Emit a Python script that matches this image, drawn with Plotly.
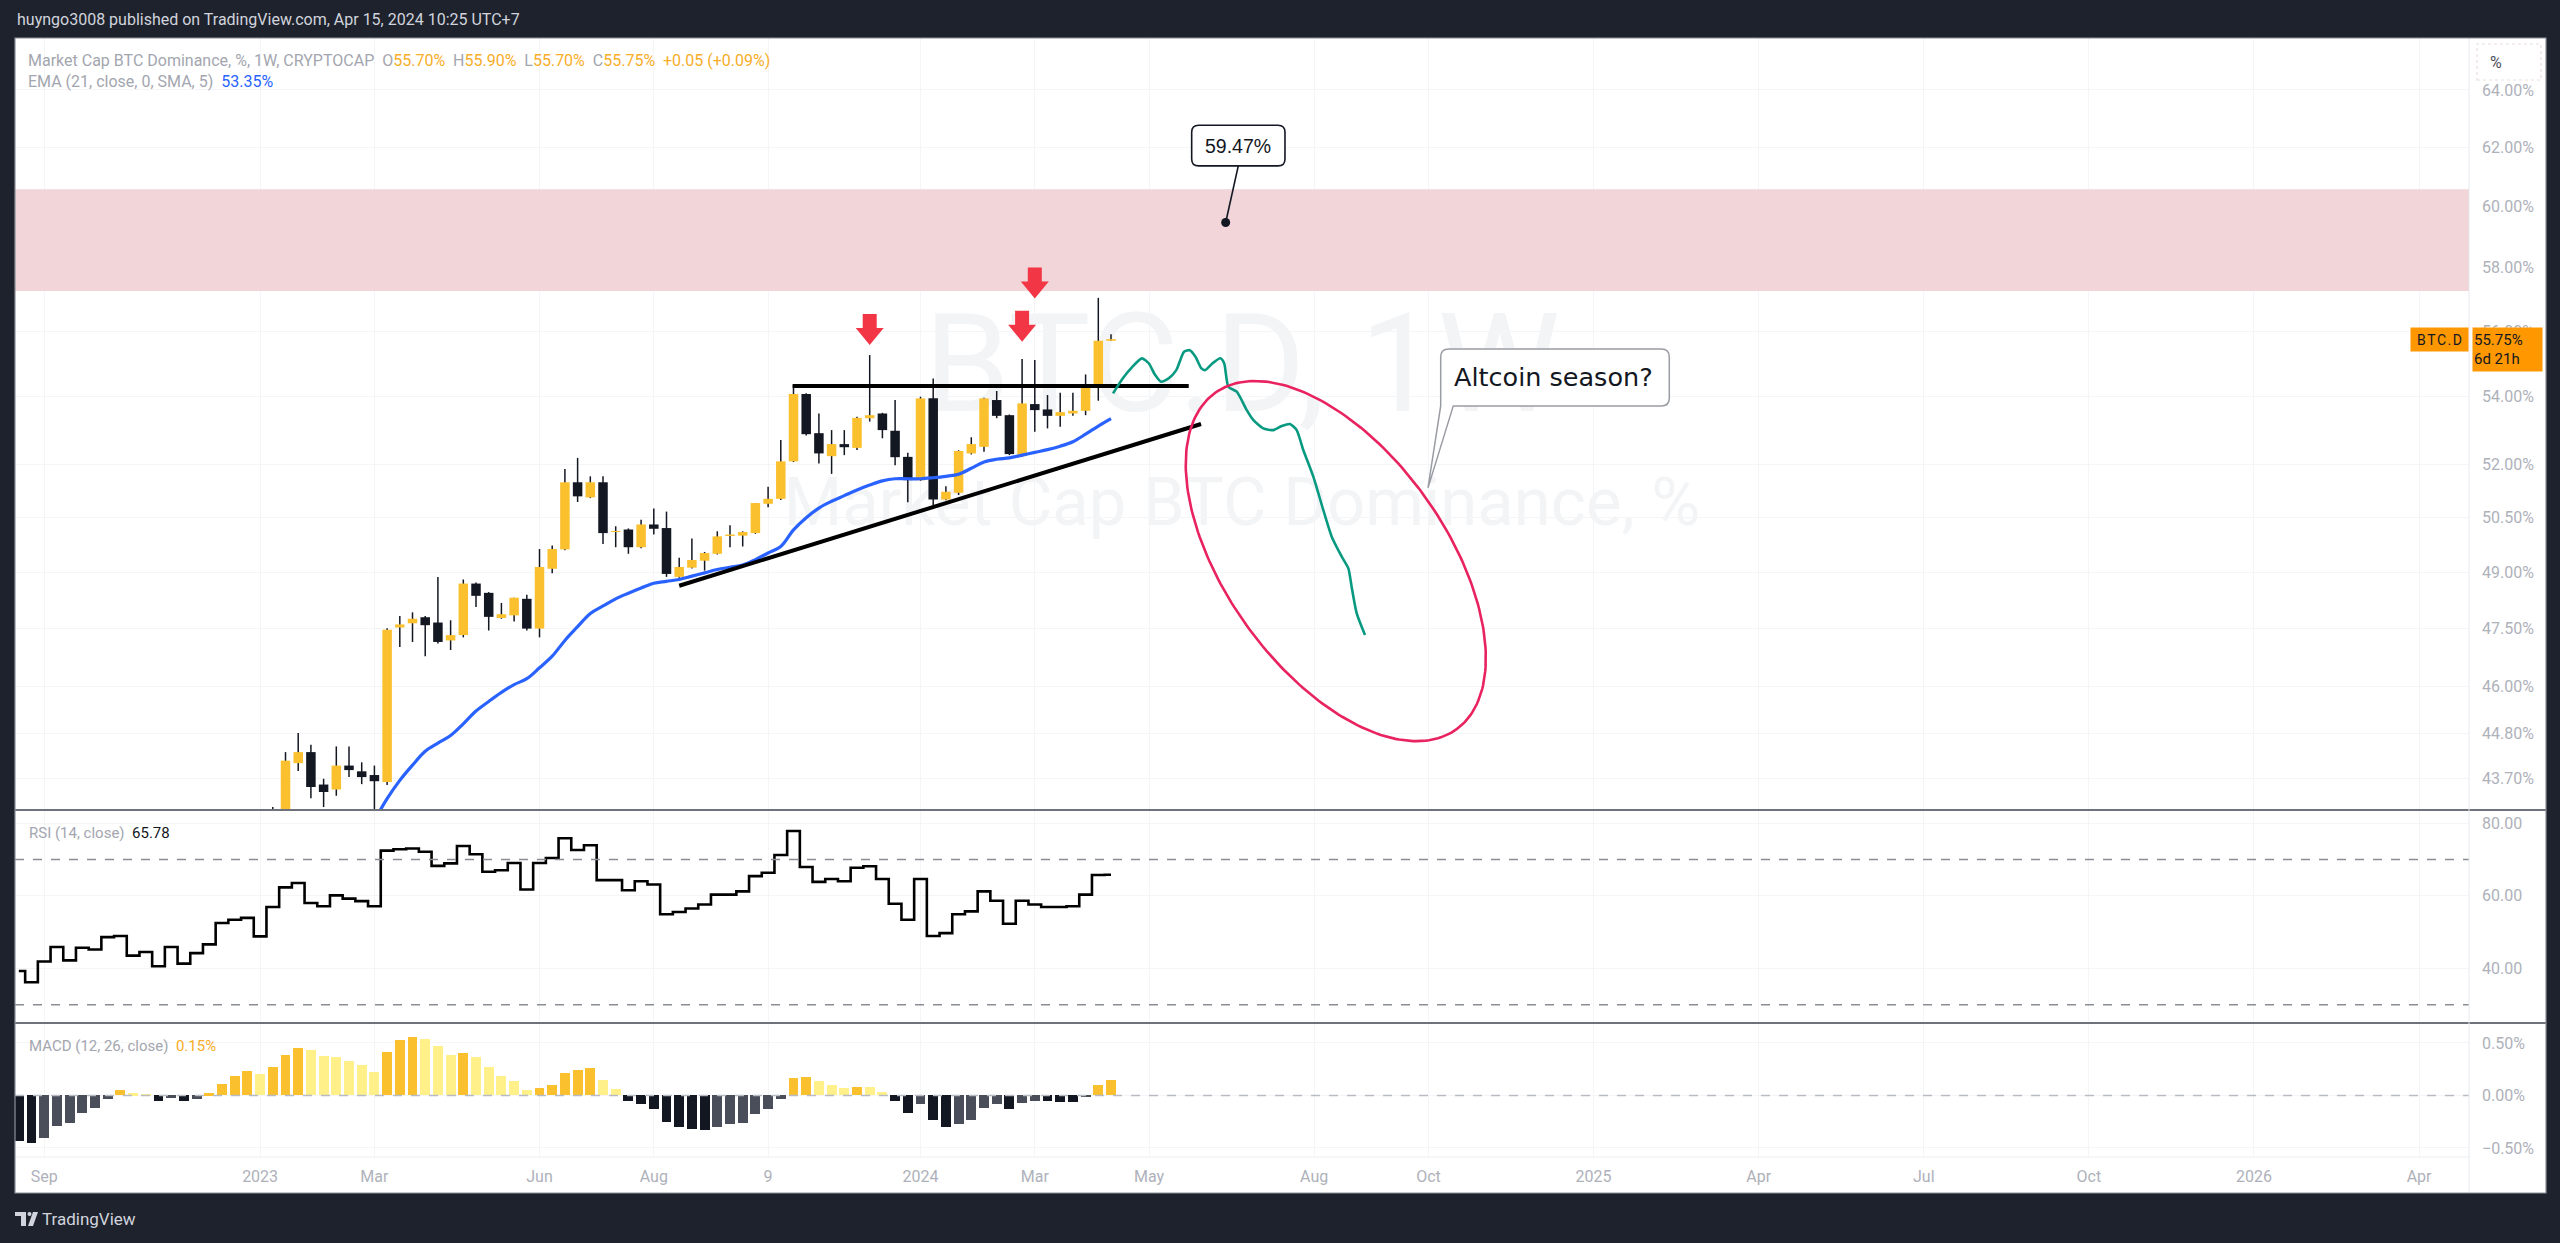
import math
import pandas as pd
import plotly.graph_objects as go

# ---------------------------------------------------------------- data
LAST_BAR = pd.Timestamp("2024-04-15")

# weekly candles, oldest -> newest (last = week of 2024-04-15)
candle_open = [42.50, 42.60, 44.08, 44.35, 43.56, 43.44, 44.02, 43.88, 43.79, 43.62,
               47.52, 47.63, 47.79, 47.65, 47.18, 47.32, 48.69, 48.44, 47.77, 47.84,
               48.28, 47.49, 49.09, 49.62, 51.50, 51.07, 51.50, 50.10, 50.17, 49.68,
               50.31, 50.21, 48.87, 49.12, 49.31, 49.50, 49.99, 50.00, 50.07, 50.89,
               51.03, 52.10, 54.08, 52.92, 52.25, 52.60, 52.49, 53.36, 53.50, 52.99,
               52.23, 51.56, 53.95, 51.01, 51.20, 52.33, 52.52, 53.90, 53.45, 52.25,
               53.78, 53.62, 53.43, 53.50, 53.58, 54.28, 55.70]
candle_high = [43.02, 44.35, 44.82, 44.53, 43.70, 44.49, 44.49, 44.10, 44.02, 47.50,
               47.82, 47.92, 47.82, 48.87, 47.71, 48.80, 48.72, 48.46, 48.17, 48.31,
               48.39, 49.63, 49.73, 51.88, 52.20, 51.67, 51.67, 50.26, 50.20, 50.44,
               50.76, 50.67, 49.39, 49.92, 49.55, 50.12, 50.29, 50.12, 50.91, 51.37,
               52.72, 54.35, 54.10, 53.50, 53.01, 53.01, 53.40, 55.26, 53.52, 53.90,
               52.35, 54.00, 54.55, 51.39, 52.42, 52.80, 53.97, 54.17, 53.47, 55.14,
               55.11, 54.05, 54.12, 54.12, 54.67, 57.04, 55.90]
candle_low = [42.10, 42.40, 43.89, 43.23, 43.02, 43.29, 43.74, 43.57, 42.90, 43.55,
              47.01, 47.14, 46.77, 47.10, 46.93, 47.26, 48.06, 47.44, 47.75, 47.68,
              47.44, 47.26, 48.97, 49.60, 50.94, 51.05, 49.77, 49.68, 49.50, 49.65,
              50.03, 48.87, 48.85, 49.10, 49.04, 49.48, 49.68, 49.70, 50.05, 50.79,
              51.00, 52.08, 52.85, 52.04, 51.74, 52.28, 52.43, 53.26, 52.77, 51.99,
              50.93, 51.54, 50.85, 50.99, 51.14, 52.30, 52.38, 53.36, 52.28, 52.23,
              52.96, 53.06, 53.11, 53.43, 53.45, 53.88, 55.70]
candle_close = [42.30, 44.14, 44.35, 43.50, 43.38, 44.02, 43.91, 43.74, 43.64, 47.46,
                47.60, 47.75, 47.58, 47.14, 47.32, 48.69, 48.36, 47.80, 47.87, 48.31,
                47.49, 49.14, 49.63, 51.50, 51.10, 51.50, 50.07, 50.12, 49.68, 50.31,
                50.19, 48.95, 49.14, 49.33, 49.52, 49.98, 50.03, 50.10, 50.91, 51.03,
                52.10, 54.08, 52.89, 52.33, 52.60, 52.51, 53.37, 53.45, 53.01, 52.22,
                51.56, 53.95, 51.01, 51.23, 52.40, 52.60, 53.95, 53.43, 52.31, 53.80,
                53.60, 53.43, 53.54, 53.58, 54.30, 55.70, 55.75]
candle_dates = pd.date_range(end=LAST_BAR, periods=len(candle_open), freq="7D")

ema_values = [42.70, 43.22, 43.66, 44.03, 44.37, 44.57, 44.76, 45.05, 45.37, 45.61,
              45.84, 46.04, 46.19, 46.47, 46.77, 47.18, 47.54, 47.89, 48.09, 48.28,
              48.43, 48.57, 48.70, 48.75, 48.80, 48.89, 48.98, 49.07, 49.13, 49.19,
              49.34, 49.52, 49.70, 50.16, 50.50, 50.77, 50.96, 51.12, 51.28, 51.42,
              51.54, 51.60, 51.60, 51.60, 51.63, 51.67, 51.73, 51.90, 52.08, 52.16,
              52.20, 52.28, 52.36, 52.44, 52.54, 52.67, 52.89, 53.13, 53.35]
ema_dates = pd.date_range(end=LAST_BAR, periods=len(ema_values), freq="7D")

rsi_values = [39.3, 36.2, 41.9, 45.9, 42.2, 45.7, 45.2, 48.6, 48.9, 43.5,
              44.5, 40.6, 45.9, 41.3, 44.2, 46.6, 52.5, 53.4, 53.9, 48.8,
              56.9, 62.3, 63.5, 58.0, 57.1, 60.1, 59.2, 58.5, 57.1, 72.4,
              72.8, 73.0, 72.1, 68.2, 68.9, 73.7, 71.4, 66.6, 67.0, 69.0,
              61.7, 69.0, 70.4, 75.8, 72.6, 73.9, 64.3, 64.3, 61.5, 64.0,
              63.1, 54.9, 55.5, 56.5, 57.6, 60.3, 60.3, 61.2, 65.4, 66.3,
              71.2, 77.8, 67.9, 63.8, 64.6, 64.0, 67.7, 68.1, 64.6, 57.8,
              53.4, 64.6, 48.9, 49.7, 54.9, 55.7, 61.2, 58.6, 52.3, 58.6,
              57.6, 56.9, 56.9, 57.1, 60.3, 65.7, 65.78]
rsi_dates = pd.date_range(end=LAST_BAR, periods=len(rsi_values), freq="7D")

macd_hist = [-0.435, -0.457, -0.403, -0.286, -0.260, -0.165, -0.117, -0.032, 0.051, 0.019,
             0.016, -0.048, -0.022, -0.048, -0.032, 0.019, 0.111, 0.190, 0.231, 0.200,
             0.270, 0.390, 0.454, 0.432, 0.375, 0.368, 0.327, 0.289, 0.222, 0.416,
             0.524, 0.559, 0.540, 0.470, 0.390, 0.406, 0.365, 0.270, 0.190, 0.137,
             0.048, 0.070, 0.095, 0.216, 0.241, 0.257, 0.152, 0.063, -0.048, -0.086,
             -0.127, -0.254, -0.302, -0.322, -0.326, -0.302, -0.276, -0.260, -0.181, -0.127,
             -0.032, 0.162, 0.178, 0.137, 0.098, 0.073, 0.083, 0.082, 0.035, -0.054,
             -0.165, -0.086, -0.229, -0.298, -0.270, -0.229, -0.124, -0.086, -0.133, -0.070,
             -0.054, -0.056, -0.058, -0.060, -0.016, 0.095, 0.152]
macd_dates = pd.date_range(end=LAST_BAR, periods=len(macd_hist), freq="7D")

price_ticks = [43.7, 44.8, 46.0, 47.5, 49.0, 50.5, 52.0, 54.0, 56.0, 58.0, 60.0, 62.0, 64.0]
price_tick_text = [f"{v:.2f}%" for v in price_ticks]
rsi_ticks = [40, 60, 80]
rsi_tick_text = ["40.00", "60.00", "80.00"]
macd_ticks = [-0.5, 0.0, 0.5]
macd_tick_text = ["\u22120.50%", "0.00%", "0.50%"]
time_tick_dates = ["2022-09-05", "2023-01-02", "2023-03-06", "2023-06-05", "2023-08-07",
                   "2023-10-09", "2024-01-01", "2024-03-04", "2024-05-06", "2024-08-05",
                   "2024-10-07", "2025-01-06", "2025-04-07", "2025-07-07", "2025-10-06",
                   "2026-01-05", "2026-04-06"]
time_tick_text = ["Sep", "2023", "Mar", "Jun", "Aug", "9", "2024", "Mar", "May", "Aug",
                  "Oct", "2025", "Apr", "Jul", "Oct", "2026", "Apr"]

# drawings (time as weeks from the last bar, price in %)
resistance_weeks = [-25.07, 6.12]
resistance_price = [54.32, 54.32]
support_weeks = [-34.0, 7.09]
support_price = [48.63, 53.19]
path_weeks = [0.16, 0.92, 1.68, 2.43, 2.97, 3.48, 3.94, 4.54, 5.14, 5.75, 6.20, 6.65,
              7.10, 7.40, 8.00, 8.61, 8.91, 9.24, 9.90, 10.69, 11.20, 11.99, 12.78,
              13.44, 14.09, 14.62, 15.14, 15.93, 16.72, 17.38, 18.17, 18.69, 18.95,
              19.35, 20.00]
path_price = [54.10, 54.55, 54.90, 55.16, 55.01, 54.65, 54.45, 54.55, 54.80, 55.36, 55.41,
              55.21, 54.86, 54.80, 55.01, 55.16, 55.01, 54.30, 54.15, 53.60, 53.31, 53.06,
              53.01, 53.13, 53.19, 53.01, 52.43, 51.66, 50.71, 49.97, 49.42, 49.10, 48.60,
              47.89, 47.32]
arrow_weeks = [-19, -7, -6]
arrow_price = [55.57, 55.67, 57.02]
target_weeks = 9.03
target_price = 59.47
zone_price = [57.26, 60.58]
callout_weeks = 24.96
callout_price = 51.34
ellipse_center_weeks = 17.7
ellipse_center_price = 49.3
ellipse_a_weeks = 16.3
ellipse_b_weeks = 8.66
ellipse_tilt_deg = -54.4

# ---------------------------------------------------------------- layout geometry
W, H = 2560, 1243
L, R, T, B = 15, 2469, 38, 1157          # plot-area box
MAIN_BOTTOM, RSI_BOTTOM = 810, 1023
PANEL_R, PANEL_B = 2546, 1193
VIEW_W = (-86.3, 106.93)                 # visible weeks around last bar
MAIN_RANGE = (42.95, 65.87)
RSI_RANGE = (24.97, 83.59)
MACD_RANGE = (-0.586, 0.69)


def wdate(w):
    return LAST_BAR + pd.Timedelta(days=7 * w)


def PX(x):
    return (x - L) / (R - L)


def PY(y):
    return (B - y) / (B - T)


DARK = "#1e222d"
INK = "#131722"
GRAY_TXT = "#a3a6af"
AXIS_TXT = "#aeb1ba"
ORANGE = "#fbc02d"
LEG_ORANGE = "#f8ad28"
FONT = "Roboto"

fig = go.Figure()

# resistance zone (as a filled trace so it sits above the grid)
zx0, zx1 = wdate(VIEW_W[0] - 2), wdate(VIEW_W[1] + 2)
fig.add_trace(go.Scatter(x=[zx0, zx1, zx1, zx0, zx0],
                         y=[zone_price[0], zone_price[0], zone_price[1], zone_price[1], zone_price[0]],
                         mode="lines", fill="toself", fillcolor="#f1d5d9", line=dict(width=0),
                         hoverinfo="skip", xaxis="x", yaxis="y"))

# candles ---------------------------------------------------------------
wx, wy = [], []
for d, h, l in zip(candle_dates, candle_high, candle_low):
    wx += [d, d, None]
    wy += [h, l, None]
fig.add_trace(go.Scatter(x=wx, y=wy, mode="lines", line=dict(color=INK, width=1.5),
                         hoverinfo="skip", xaxis="x", yaxis="y"))

for up, color in [(True, ORANGE), (False, INK)]:
    bx, by = [], []
    for d, o, c in zip(candle_dates, candle_open, candle_close):
        if (c >= o) == up:
            lo, hi = min(o, c), max(o, c)
            if hi / lo < 1.0006:
                hi = lo * 1.0006
            bx += [d, d, None]
            by += [lo, hi, None]
    fig.add_trace(go.Scatter(x=bx, y=by, mode="lines", line=dict(color=color, width=9.5),
                             hoverinfo="skip", xaxis="x", yaxis="y"))

fig.add_trace(go.Scatter(x=ema_dates, y=ema_values, mode="lines",
                         line=dict(color="#2962ff", width=3.2, shape="spline"),
                         hoverinfo="skip", xaxis="x", yaxis="y"))

# trend lines
for ws, ps in [(resistance_weeks, resistance_price), (support_weeks, support_price)]:
    fig.add_trace(go.Scatter(x=[wdate(w) for w in ws], y=ps, mode="lines",
                             line=dict(color="#000000", width=4),
                             hoverinfo="skip", xaxis="x", yaxis="y"))

# projected path
fig.add_trace(go.Scatter(x=[wdate(w) for w in path_weeks], y=path_price, mode="lines",
                         line=dict(color="#089981", width=2.6, shape="spline", smoothing=0.6),
                         hoverinfo="skip", xaxis="x", yaxis="y"))

# ellipse (drawn isotropically on screen)
px_per_week = (R - L) / (VIEW_W[1] - VIEW_W[0])
px_per_ln = (MAIN_BOTTOM - T) / math.log(MAIN_RANGE[1] / MAIN_RANGE[0])
S = px_per_ln / px_per_week
phi = math.radians(ellipse_tilt_deg)
ex, ey = [], []
for i in range(241):
    t = 2 * math.pi * i / 240
    du = ellipse_a_weeks * math.cos(t) * math.cos(phi) - ellipse_b_weeks * math.sin(t) * math.sin(phi)
    dv = ellipse_a_weeks * math.cos(t) * math.sin(phi) + ellipse_b_weeks * math.sin(t) * math.cos(phi)
    ex.append(wdate(ellipse_center_weeks + du))
    ey.append(ellipse_center_price * math.exp(dv / S))
fig.add_trace(go.Scatter(x=ex, y=ey, mode="lines", line=dict(color="#e8235f", width=2.6),
                         hoverinfo="skip", xaxis="x", yaxis="y"))

# target dot
fig.add_trace(go.Scatter(x=[wdate(target_weeks)], y=[target_price], mode="markers",
                         marker=dict(color=INK, size=9), hoverinfo="skip", xaxis="x", yaxis="y"))

# RSI ---------------------------------------------------------------------
fig.add_trace(go.Scatter(x=rsi_dates, y=rsi_values, mode="lines",
                         line=dict(color="#000000", width=2.6, shape="hvh"),
                         hoverinfo="skip", xaxis="x", yaxis="y2"))

# MACD histogram ----------------------------------------------------------
mcolors = []
prev = None
for v in macd_hist:
    rising = prev is not None and v > prev
    if v >= 0:
        mcolors.append(ORANGE if (prev is None or v >= prev) else "#fff08a")
    else:
        mcolors.append("#4a4e5a" if rising else INK)
    prev = v
fig.add_trace(go.Bar(x=macd_dates, y=macd_hist, marker=dict(color=mcolors, line=dict(width=0)),
                     width=0.78 * 7 * 86400000, hoverinfo="skip", xaxis="x", yaxis="y3"))

# ---------------------------------------------------------------- shapes
shapes = []
# white chart panel
shapes.append(dict(type="rect", xref="paper", yref="paper", x0=PX(L), x1=PX(PANEL_R),
                   y0=PY(PANEL_B), y1=PY(T), fillcolor="#ffffff", line=dict(width=0), layer="below"))
# watermark
WM = "#f3f4f6"
shapes.append(dict(type="rect", xref="paper", yref="paper", x0=PX(880), x1=PX(1604),
                   y0=PY(416), y1=PY(292), fillcolor="rgba(0,0,0,0)", line=dict(width=0), layer="below",
                   label=dict(text="BTC.D, 1W", font=dict(size=138, color=WM, family=FONT),
                              textposition="middle center")))
shapes.append(dict(type="rect", xref="paper", yref="paper", x0=PX(740), x1=PX(1744),
                   y0=PY(535), y1=PY(459), fillcolor="rgba(0,0,0,0)", line=dict(width=0), layer="below",
                   label=dict(text="Market Cap BTC Dominance, %", font=dict(size=67, color=WM, family=FONT),
                              textposition="middle center")))
# RSI bands, MACD zero
for lvl in (70, 30):
    shapes.append(dict(type="line", xref="paper", yref="y2", x0=0, x1=1, y0=lvl, y1=lvl,
                       line=dict(color="#8a8d96", width=1.5, dash="dash")))
shapes.append(dict(type="line", xref="paper", yref="y3", x0=0, x1=1, y0=0, y1=0,
                   line=dict(color="#b8bbc3", width=1.5, dash="dash")))
# pane separators and borders
for yy in (MAIN_BOTTOM, RSI_BOTTOM):
    shapes.append(dict(type="line", xref="paper", yref="paper", x0=PX(L), x1=PX(PANEL_R),
                       y0=PY(yy), y1=PY(yy), line=dict(color="#6f727c", width=2)))
shapes.append(dict(type="line", xref="paper", yref="paper", x0=PX(R), x1=PX(R),
                   y0=PY(PANEL_B), y1=PY(T), line=dict(color="#e6e8ee", width=1)))
shapes.append(dict(type="line", xref="paper", yref="paper", x0=PX(L), x1=PX(R),
                   y0=0, y1=0, line=dict(color="#eceef2", width=1)))
shapes.append(dict(type="rect", xref="paper", yref="paper", x0=PX(L), x1=PX(PANEL_R),
                   y0=PY(PANEL_B), y1=PY(T), line=dict(color="#8c8f98", width=1.2)))
# red arrows
ARROW_PATH = "M0,0 L-14,17 L-7,17 L-7,31 L7,31 L7,17 L14,17 Z"
for w, p in zip(arrow_weeks, arrow_price):
    shapes.append(dict(type="path", xref="x", yref="y", xsizemode="pixel", ysizemode="pixel",
                       xanchor=wdate(w), yanchor=p, path=ARROW_PATH,
                       fillcolor="#f23645", line=dict(width=0)))
# 59.47% label box + leader
shapes.append(dict(type="path", xref="x", yref="y", xsizemode="pixel", ysizemode="pixel",
                   xanchor=wdate(target_weeks), yanchor=target_price,
                   path="M12.6,56.6 L0,0", line=dict(color=INK, width=1.6)))
shapes.append(dict(type="path", xref="x", yref="y", xsizemode="pixel", ysizemode="pixel",
                   xanchor=wdate(target_weeks), yanchor=target_price,
                   path=("M-27,56.6 L52.3,56.6 Q59.3,56.6 59.3,63.6 L59.3,90.3 Q59.3,97.3 52.3,97.3 "
                         "L-27,97.3 Q-34,97.3 -34,90.3 L-34,63.6 Q-34,56.6 -27,56.6 Z"),
                   fillcolor="#ffffff", line=dict(color=INK, width=1.6)))
# callout
shapes.append(dict(type="path", xref="x", yref="y", xsizemode="pixel", ysizemode="pixel",
                   xanchor=wdate(callout_weeks), yanchor=callout_price,
                   path=("M0,0 L12.7,82 L12.7,131 Q12.7,139 20.7,139 L233.3,139 Q241.3,139 241.3,131 "
                         "L241.3,90 Q241.3,82 233.3,82 L25.3,82 Z"),
                   fillcolor="#ffffff", line=dict(color="#9a9ca4", width=1.5)))
# "%" button
shapes.append(dict(type="rect", xref="paper", yref="paper", x0=PX(2477), x1=PX(2541),
                   y0=PY(80), y1=PY(44), fillcolor="#ffffff",
                   line=dict(color="#eadde2", width=1.2, dash="dot")))
# TradingView logo mark
shapes.append(dict(type="path", xref="paper", yref="paper",
                   path=(f"M{PX(15)},{PY(1212)} L{PX(26)},{PY(1212)} L{PX(26)},{PY(1226)} "
                         f"L{PX(21)},{PY(1226)} L{PX(21)},{PY(1216)} L{PX(15)},{PY(1216)} Z"),
                   fillcolor="#d1d4dc", line=dict(width=0)))
shapes.append(dict(type="circle", xref="paper", yref="paper", x0=PX(27.5), x1=PX(31.5),
                   y0=PY(1216), y1=PY(1212), fillcolor="#d1d4dc", line=dict(width=0)))
shapes.append(dict(type="path", xref="paper", yref="paper",
                   path=(f"M{PX(33)},{PY(1212)} L{PX(38)},{PY(1212)} L{PX(33)},{PY(1226)} "
                         f"L{PX(28)},{PY(1226)} Z"),
                   fillcolor="#d1d4dc", line=dict(width=0)))

# ---------------------------------------------------------------- annotations
chg = candle_close[-1] - candle_close[-2]
chg_pct = chg / candle_close[-2] * 100
sp = "\u00a0\u00a0"


def g(s):
    return f'<span style="color:{GRAY_TXT}">{s}</span>'


def o(s):
    return f'<span style="color:{LEG_ORANGE}">{s}</span>'


line1 = (g("Market Cap BTC Dominance, %, 1W, CRYPTOCAP") + sp +
         g("O") + o(f"{candle_open[-1]:.2f}%") + sp + g("H") + o(f"{candle_high[-1]:.2f}%") + sp +
         g("L") + o(f"{candle_low[-1]:.2f}%") + sp + g("C") + o(f"{candle_close[-1]:.2f}%") + sp +
         o(f"{chg:+.2f} ({chg_pct:+.2f}%)"))
line2 = g("EMA (21, close, 0, SMA, 5)") + sp + f'<span style="color:#2962ff">{ema_values[-1]:.2f}%</span>'
rsi_leg = g("RSI (14, close)") + sp + f'<span style="color:{INK}">{rsi_values[-1]:.2f}</span>'
macd_leg = g("MACD (12, 26, close)") + sp + o(f"{macd_hist[-1]:.2f}%")

ann = []


def pa(text, x, y, size, color, xanchor="left", **kw):
    ann.append(dict(text=text, x=PX(x), y=PY(y), xref="paper", yref="paper", showarrow=False,
                    xanchor=xanchor, yanchor="middle", font=dict(size=size, color=color, family=FONT), **kw))


pa("huyngo3008 published on TradingView.com, Apr 15, 2024 10:25 UTC+7", 15, 20, 16, "#d1d4dc")
pa(line1, 26, 60, 16, GRAY_TXT)
pa(line2, 26, 82, 16, GRAY_TXT)
pa(rsi_leg, 27, 833, 15, GRAY_TXT)
pa(macd_leg, 27, 1046, 15, GRAY_TXT)
pa("TradingView", 40, 1219, 17, "#d1d4dc")
pa("%", 2496, 62, 16, "#50535e", xanchor="center")
ann.append(dict(text="B T C . D".replace(" ", "\u200a"), x=PX(R), y=PY(339.5), xref="paper", yref="paper",
                showarrow=False, xanchor="right", yanchor="middle", bgcolor="#ff9800",
                width=55, height=21, borderpad=1, font=dict(size=14, color=INK, family=FONT)))
ann.append(dict(text=f"{candle_close[-1]:.2f}%<br>6d 21h", x=PX(2472), y=PY(349.5), xref="paper",
                yref="paper", showarrow=False, xanchor="left", yanchor="middle", bgcolor="#ff9800",
                width=67, height=41, borderpad=1, align="left",
                font=dict(size=15, color=INK, family=FONT)))
ann.append(dict(text=f"{target_price:.2f}%", x=wdate(target_weeks), y=math.log10(target_price),
                xref="x", yref="y", showarrow=False, xshift=12.6, yshift=77,
                font=dict(size=19.5, color=INK, family="Liberation Sans")))
ann.append(dict(text="Altcoin season?", x=wdate(callout_weeks), y=math.log10(callout_price),
                xref="x", yref="y", showarrow=False, xshift=126, yshift=111,
                font=dict(size=25.5, color=INK, family="DejaVu Sans")))

# ---------------------------------------------------------------- axes
dom_main = [PY(MAIN_BOTTOM), 1]
dom_rsi = [PY(RSI_BOTTOM), PY(MAIN_BOTTOM)]
dom_macd = [0, PY(RSI_BOTTOM)]
GRID = "#f4f5f7"
tickfont = dict(size=16, color=AXIS_TXT, family=FONT)

fig.update_layout(
    width=W, height=H,
    margin=dict(l=L, r=W - R, t=T, b=H - B, pad=0),
    paper_bgcolor=DARK, plot_bgcolor="rgba(0,0,0,0)",
    showlegend=False, hovermode=False,
    xaxis=dict(type="date", range=[wdate(VIEW_W[0]), wdate(VIEW_W[1])], anchor="y3",
               tickvals=time_tick_dates, ticktext=time_tick_text, tickfont=tickfont,
               showgrid=True, gridcolor=GRID, zeroline=False, showline=False, ticks="",
               ticklabelstandoff=8, fixedrange=True),
    yaxis=dict(type="log", domain=dom_main, anchor="x", side="right",
               range=[math.log10(MAIN_RANGE[0]), math.log10(MAIN_RANGE[1])],
               tickvals=price_ticks, ticktext=price_tick_text, tickfont=tickfont,
               showgrid=True, gridcolor=GRID, zeroline=False, ticks="", ticklabelstandoff=12),
    yaxis2=dict(domain=dom_rsi, anchor="x", side="right", range=list(RSI_RANGE),
                tickvals=rsi_ticks, ticktext=rsi_tick_text, tickfont=tickfont,
                showgrid=True, gridcolor=GRID, zeroline=False, ticks="", ticklabelstandoff=12),
    yaxis3=dict(domain=dom_macd, anchor="x", side="right", range=list(MACD_RANGE),
                tickvals=macd_ticks, ticktext=macd_tick_text, tickfont=tickfont,
                showgrid=True, gridcolor=GRID, zeroline=False, ticks="", ticklabelstandoff=12),
    shapes=shapes,
    annotations=ann,
    bargap=0,
)

fig.write_html("out.html", include_plotlyjs=True, config={"displayModeBar": False})
